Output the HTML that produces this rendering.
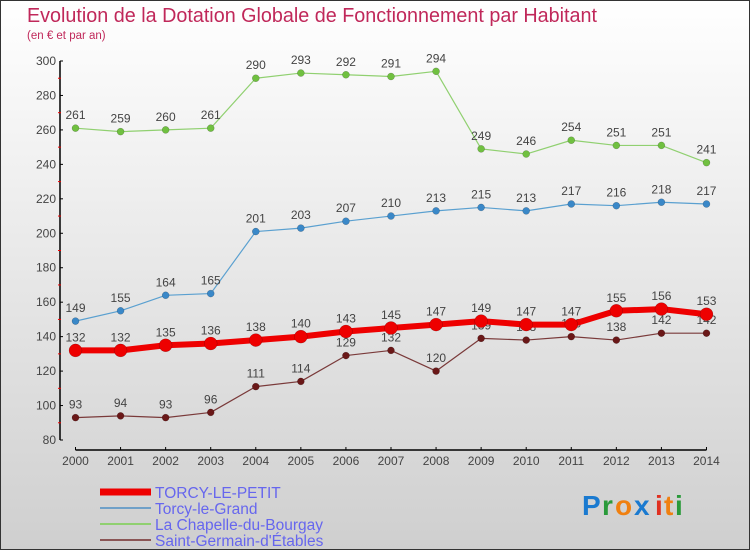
<!DOCTYPE html>
<html><head><meta charset="utf-8"><style>
body{margin:0;width:750px;height:550px;overflow:hidden}
svg{display:block;font-family:"Liberation Sans","DejaVu Sans",sans-serif}
</style></head><body>
<svg id="c" width="750" height="550">
<defs><linearGradient id="bg" x1="0" y1="0" x2="0" y2="1"><stop offset="0" stop-color="#ffffff"/><stop offset="1" stop-color="#cfcfcf"/></linearGradient></defs>
<rect x="0.5" y="0.5" width="749" height="549" fill="url(#bg)" stroke="#333"/>
<text x="27" y="22" font-size="20" fill="#c0285a" textLength="570" lengthAdjust="spacingAndGlyphs">Evolution de la Dotation Globale de Fonctionnement par Habitant</text>
<text x="27" y="39" font-size="11.5" fill="#c0285a">(en € et par an)</text>
<g id="axes"></g><g id="series"></g>
<g>
<line x1="100" y1="492" x2="151" y2="492" stroke="#e00" stroke-width="7"/>
<text x="155" y="498" font-size="15.5" fill="#6666ee">TORCY-LE-PETIT</text>
<line x1="100" y1="508" x2="151" y2="508" stroke="#6fa0c8" stroke-width="2"/>
<text x="155" y="514" font-size="15.5" fill="#6666ee">Torcy-le-Grand</text>
<line x1="100" y1="524" x2="151" y2="524" stroke="#90d070" stroke-width="2"/>
<text x="155" y="530" font-size="15.5" fill="#6666ee">La Chapelle-du-Bourgay</text>
<line x1="100" y1="540" x2="151" y2="540" stroke="#8a5555" stroke-width="2"/>
<text x="155" y="546" font-size="15.5" fill="#6666ee">Saint-Germain-d'Étables</text>
</g>
<g font-size="28" font-weight="bold">
<text x="582" y="515" fill="#1a7ad0">P</text><text x="602" y="515" fill="#2a9a3a">r</text><text x="615" y="515" fill="#f08010">o</text><text x="634" y="515" fill="#1a7ad0">x</text><text x="655" y="515" fill="#e03020">i</text><text x="664" y="515" fill="#f08010">t</text><text x="675" y="515" fill="#2a9a3a">i</text>
</g>
</svg>
<script>
const years=[2000,2001,2002,2003,2004,2005,2006,2007,2008,2009,2010,2011,2012,2013,2014];
const torcyPetit=[132,132,135,136,138,140,143,145,147,149,147,147,155,156,153];
const torcyGrand=[149,155,164,165,201,203,207,210,213,215,213,217,216,218,217];
const chapelle=[261,259,260,261,290,293,292,291,294,249,246,254,251,251,241];
const stGermain=[93,94,93,96,111,114,129,132,120,139,138,140,138,142,142];
const yTicks=[80,100,120,140,160,180,200,220,240,260,280,300];
const NS='http://www.w3.org/2000/svg';
function X(i){return 75.5+i*45.07;}
function Y(v){return 440-(v-80)*(379/220);}
function mk(p,t,a){const e=document.createElementNS(NS,t);for(const k in a)e.setAttribute(k,a[k]);p.appendChild(e);return e;}
const ax=document.getElementById('axes');
let l=mk(ax,'line',{x1:60,y1:Y(300),x2:60,y2:Y(80),stroke:'#000','stroke-width':1.5});


yTicks.forEach(v=>{
 mk(ax,'line',{x1:60,y1:Y(v),x2:63,y2:Y(v),stroke:'#000'});
 if(v<300) mk(ax,'line',{x1:58,y1:Y(v+10),x2:61,y2:Y(v+10),stroke:'#e00'});
 const t=mk(ax,'text',{x:56,y:Y(v)+4,'font-size':12,fill:'#444','text-anchor':'end'});t.textContent=v;
 
 
});
l=mk(ax,'line',{x1:X(0),y1:450,x2:X(14),y2:450,stroke:'#000','stroke-width':1.5});


years.forEach((y,i)=>{
 mk(ax,'line',{x1:X(i),y1:447,x2:X(i),y2:450,stroke:'#000'});
 const t=mk(ax,'text',{x:X(i),y:465,'font-size':12,fill:'#444','text-anchor':'middle'});t.textContent=y;
 
 
});
const sg=document.getElementById('series');
function series(name,vals,color,w,r,dot){
 const g=mk(sg,'g',{});
 
 
 mk(g,'polyline',{points:vals.map((v,i)=>X(i)+','+Y(v)).join(' '),fill:'none',stroke:color,'stroke-width':w,'stroke-linejoin':'round'});
 vals.forEach((v,i)=>{
  const c=mk(g,'circle',{cx:X(i),cy:Y(v),r:r,fill:dot,stroke:'rgba(0,0,0,0.3)','stroke-width':0.5});
  
  
  const t=mk(g,'text',{x:X(i),y:Y(v)-9,'font-size':12,fill:'#444','text-anchor':'middle'});t.textContent=v;
  
  
 });
}
series('series-saint-germain',stGermain,'#7a3a3a',1.2,3.5,'#6a1818');
series('series-chapelle',chapelle,'#90d070',1.2,3.5,'#70c040');
series('series-torcy-le-grand',torcyGrand,'#5aa0d0',1.2,3.5,'#3a88c8');
series('series-torcy-le-petit',torcyPetit,'#ee0000',6,6.5,'#ee0000');
</script>
</body></html>
